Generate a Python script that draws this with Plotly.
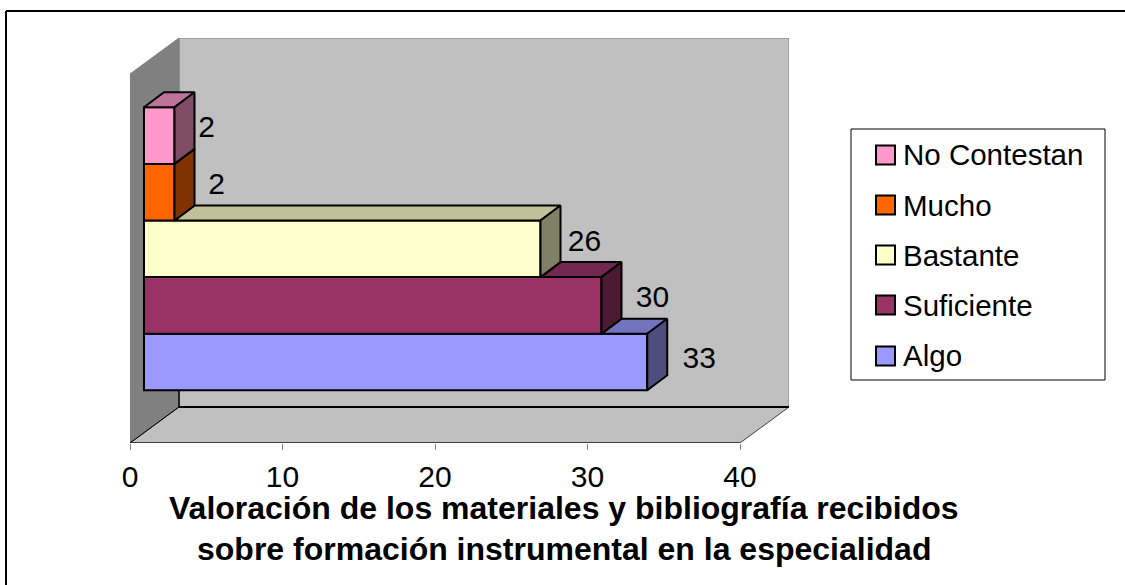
import plotly.graph_objects as go

CATEGORIES = ["Algo", "Suficiente", "Bastante", "Mucho", "No Contestan"]
VALUES = [33, 30, 26, 2, 2]
COLORS = ["#9999FF", "#993366", "#FFFFCC", "#FF6600", "#FF99CC"]
TOP_COLORS = ["#7373C0", "#732650", "#C0C099", "#C04D00", "#C0739A"]
SIDE_COLORS = ["#4D4D80", "#4D1A33", "#808066", "#803300", "#804D66"]
TICKS = [0, 10, 20, 30, 40]
TITLE_LINES = ["Valoración de los materiales y bibliografía recibidos",
               "sobre formación instrumental en la especialidad"]
LEGEND_ORDER = [4, 3, 2, 1, 0]

W, H = 1125, 585
FONT = "Liberation Sans"
# plot frame in pixels: value 0 at left edge, value 40 at front-right corner
L, R_FRONT, R_BACK = 130, 740, 789
T, B_FRONT, B_BACK = 38, 443, 407
PX_PER_X = (R_FRONT - L) / 40
BAND = 56.6
Y0_PX = 362.0

def xv(px):
    return (px - L) / PX_PER_X

def yv(py):
    return (Y0_PX - py) / BAND

def wall_path(pts):
    return "M " + " L ".join(f"{x},{y}" for x, y in pts) + " Z"

x_back = xv(R_BACK) - 40       # wall depth in value units
y_front, y_back, y_top = yv(B_FRONT), yv(B_BACK), yv(T)
y_top_left = yv(T + (B_FRONT - B_BACK))

shapes = []
def poly(pts, fill, line="#808080", lw=1):
    shapes.append(dict(type="path", xref="x", yref="y", layer="below", path=wall_path(pts),
                       fillcolor=fill, line=dict(color=line, width=lw)))

def seg(x0, y0, x1, y1, color="black", lw=1):
    shapes.append(dict(type="line", xref="x", yref="y", layer="below", x0=x0, y0=y0, x1=x1, y1=y1,
                       line=dict(color=color, width=lw)))

poly([(x_back, y_back), (x_back + 40, y_back), (x_back + 40, y_top), (x_back, y_top)], "#C0C0C0")
poly([(0, y_front), (x_back, y_back), (x_back, y_top), (0, y_top_left)], "#808080")
poly([(0, y_front), (40, y_front), (x_back + 40, y_back), (x_back, y_back)], "#C0C0C0", "#404040")
seg(x_back, y_back, x_back + 40, y_back, "black", 2)
seg(x_back, y_back, x_back, yv(388), "black", 1.5)
seg(0, y_front, x_back, y_back, "black", 1)
seg(0, y_front, 40, y_front, "black", 1)

BAR_OFF = 14 / PX_PER_X
BAR_DX = 20 / PX_PER_X
BAR_DY = 15 / BAND
LW = 2

fig = go.Figure()
fig.add_trace(go.Bar(
    orientation="h", y=list(range(len(VALUES))), x=VALUES, base=[BAR_OFF] * len(VALUES),
    width=1, marker=dict(color=COLORS, line=dict(color="black", width=LW)),
    showlegend=False, hoverinfo="skip"))

for i, v in enumerate(VALUES):
    end = BAR_OFF + v
    # the next bar up hides the left part of this bar's top face
    start = BAR_OFF + VALUES[i + 1] if i + 1 < len(VALUES) else BAR_OFF
    if end > start:
        fig.add_trace(go.Scatter(
            x=[start, end, end + BAR_DX, start + BAR_DX, start],
            y=[i + .5, i + .5, i + .5 + BAR_DY, i + .5 + BAR_DY, i + .5],
            mode="lines", fill="toself", fillcolor=TOP_COLORS[i],
            line=dict(color="black", width=LW), showlegend=False, hoverinfo="skip"))
    fig.add_trace(go.Scatter(
        x=[end, end + BAR_DX, end + BAR_DX, end, end],
        y=[i - .5, i - .5 + BAR_DY, i + .5 + BAR_DY, i + .5, i - .5],
        mode="lines", fill="toself", fillcolor=SIDE_COLORS[i],
        line=dict(color="black", width=LW), showlegend=False, hoverinfo="skip"))

# data labels: pixel nudges from the bar's end, as placed in the source
LABEL_NUDGE_X = [52, 51, 44, 42, 32]
LABEL_NUDGE_Y = [2, 6, 5, 6, 6]
fig.add_trace(go.Scatter(
    x=[BAR_OFF + v + n / PX_PER_X for v, n in zip(VALUES, LABEL_NUDGE_X)],
    y=[i + n / BAND for i, n in enumerate(LABEL_NUDGE_Y)],
    mode="text", text=[str(v) for v in VALUES], textposition="middle center",
    textfont=dict(family=FONT, size=30, color="black"),
    showlegend=False, hoverinfo="skip"))

def fx(px):
    return px / W

def fy(py):
    return 1 - py / H

# outer frame (left and top edges only)
for x0, y0, x1, y1 in [(6, 11, 6, H), (6, 11, W, 11)]:
    shapes.append(dict(type="line", xref="paper", yref="paper", x0=fx(x0), y0=fy(y0), x1=fx(x1), y1=fy(y1),
                       line=dict(color="black", width=2)))

# legend box
shapes.append(dict(type="rect", xref="paper", yref="paper", x0=fx(851), y0=fy(129), x1=fx(1105), y1=fy(380),
                   fillcolor="white", line=dict(color="black", width=1)))
annotations = []
LEGEND_Y = [155, 205, 255, 305, 356]
for idx, cy in zip(LEGEND_ORDER, LEGEND_Y):
    shapes.append(dict(type="rect", xref="paper", yref="paper", x0=fx(876), x1=fx(895),
                       y0=fy(cy - 9.5), y1=fy(cy + 9.5), fillcolor=COLORS[idx],
                       line=dict(color="black", width=2)))
    annotations.append(dict(xref="paper", yref="paper", x=fx(903), y=fy(cy), text=CATEGORIES[idx],
                            showarrow=False, xanchor="left", yanchor="middle",
                            xshift=-2, font=dict(family=FONT, size=29.5, color="black")))
for line, cy in zip(TITLE_LINES, [508, 549]):
    annotations.append(dict(xref="paper", yref="paper", x=fx(564), y=fy(cy), text=f"<b>{line}</b>",
                            showarrow=False, xanchor="center", yanchor="middle",
                            font=dict(family=FONT, size=32, color="black")))

fig.update_layout(
    width=W, height=H, margin=dict(l=0, r=0, t=0, b=0, pad=0),
    paper_bgcolor="white", plot_bgcolor="rgba(0,0,0,0)",
    showlegend=False, shapes=shapes, annotations=annotations, barmode="overlay",
    xaxis=dict(domain=[L / W, R_BACK / W], range=[0, xv(R_BACK)], showgrid=False, zeroline=False,
               automargin=False, showline=False, tickmode="array", tickvals=TICKS, ticks="outside",
               ticklen=6, tickwidth=1, tickcolor="#808080", ticklabelstandoff=1,
               tickfont=dict(family=FONT, size=30, color="black")),
    yaxis=dict(domain=[1 - B_FRONT / H, 1 - T / H], range=[y_front, y_top], visible=False,
               automargin=False),
)
fig.write_html("out.html", config={"displayModeBar": False},
               post_script="document.body.style.margin='0';document.body.style.overflow='hidden';")
